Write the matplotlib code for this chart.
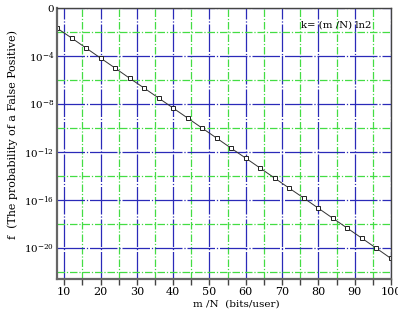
import matplotlib
matplotlib.use("Agg")
import matplotlib.pyplot as plt
from matplotlib.ticker import FixedLocator

# m/N (bits per user) at the square markers
bits_per_user = [8, 12, 16, 20, 24, 28, 32, 36, 40, 44, 48, 52,
                 56, 60, 64, 68, 72, 76, 80, 84, 88, 92, 96, 100]
# probability of a false positive
false_pos = [2.1e-2, 3.2e-3, 4.6e-4, 6.7e-5, 9.8e-6, 1.4e-6, 2.1e-7,
             3.1e-8, 4.5e-9, 6.6e-10, 9.6e-11, 1.4e-11, 2.0e-12,
             3.0e-13, 4.4e-14, 6.4e-15, 9.3e-16, 1.4e-16, 2.0e-17,
             2.9e-18, 4.3e-19, 6.3e-20, 9.1e-21, 1.3e-21]

x_major = [10, 20, 30, 40, 50, 60, 70, 80, 90, 100]
x_minor = [15, 25, 35, 45, 55, 65, 75, 85, 95]
y_major = [1e0, 1e-4, 1e-8, 1e-12, 1e-16, 1e-20]
y_labels = ["0", r"$10^{-4}$", r"$10^{-8}$", r"$10^{-12}$", r"$10^{-16}$", r"$10^{-20}$"]
y_minor = [1e-2, 1e-6, 1e-10, 1e-14, 1e-18, 1e-22]

plt.rcParams["font.family"] = ["DejaVu Serif"]
plt.rcParams["mathtext.fontset"] = "dejavuserif"

fig = plt.figure(figsize=(3.98, 3.18), dpi=100)
ax = fig.add_axes([0.1432, 0.1226, 0.8392, 0.8522])

ax.set_yscale("log")
ax.set_xlim(8, 100)
ax.set_ylim(10 ** -22.6, 1)

ax.xaxis.set_major_locator(FixedLocator(x_major))
ax.xaxis.set_minor_locator(FixedLocator(x_minor))
ax.yaxis.set_major_locator(FixedLocator(y_major))
ax.yaxis.set_minor_locator(FixedLocator(y_minor))
ax.set_yticklabels(y_labels)
ax.yaxis.set_minor_formatter(plt.NullFormatter())

# grid: blue on majors, green on minors
ax.grid(which="major", color="#2a2ab8", linestyle=(0, (22, 1.5, 1, 1.5)), linewidth=0.9)
ax.grid(which="minor", color="#44dd44", linestyle=(0, (6, 1.5, 1, 1.5)), linewidth=0.9)
ax.set_axisbelow(True)

ax.plot(bits_per_user, false_pos, color="#333333", linewidth=0.7,
        marker="s", markersize=3.0, markerfacecolor="white",
        markeredgecolor="#222222", markeredgewidth=0.7, clip_on=True)

for side in ["left", "bottom"]:
    ax.spines[side].set_color("#666666")
    ax.spines[side].set_linewidth(1.6)
for side in ["top", "right"]:
    ax.spines[side].set_color("#444444")
    ax.spines[side].set_linewidth(1.0)

ax.tick_params(axis="x", which="both", direction="out", length=4, width=1,
               color="#444444", labelsize=8, pad=2)
ax.tick_params(axis="y", which="both", length=0, labelsize=7.5, pad=2)

ax.set_xlabel("m /N  (bits/user)", fontsize=7.5, labelpad=1)
ax.xaxis.set_label_coords(0.536, -0.075)
ax.set_ylabel("f  (The probability of a False Positive)", fontsize=7.9)
ax.yaxis.set_label_coords(-0.118, 0.535)
ax.text(0.94, 0.955, "k= (m /N) ln2", transform=ax.transAxes, fontsize=7.3,
        ha="right", va="top")

fig.savefig("out.png", dpi=100)
